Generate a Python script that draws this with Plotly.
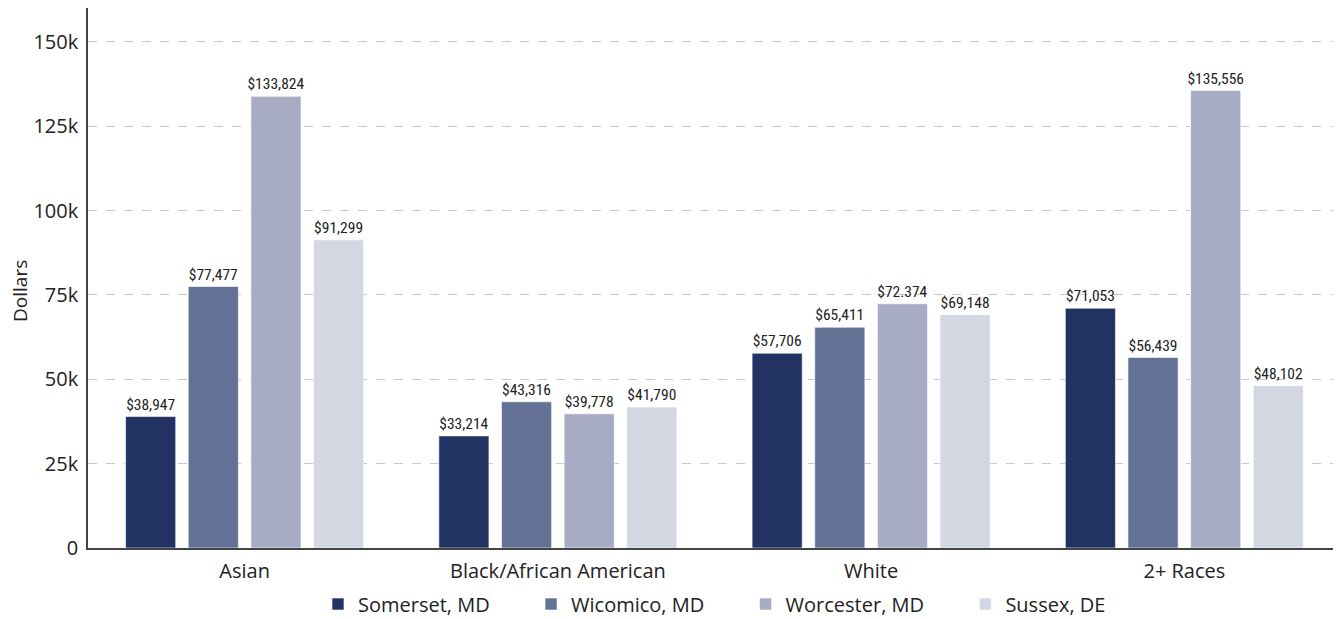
import plotly.graph_objects as go

CATEGORIES = ["Asian", "Black/African American", "White", "2+ Races"]

SOMERSET = [38947, 33214, 57706, 71053]
WICOMICO = [77477, 43316, 65411, 56439]
WORCESTER = [133824, 39778, 72374, 135556]
SUSSEX = [91299, 41790, 69148, 48102]

SOMERSET_LABELS = ["$38,947", "$33,214", "$57,706", "$71,053"]
WICOMICO_LABELS = ["$77,477", "$43,316", "$65,411", "$56,439"]
WORCESTER_LABELS = ["$133,824", "$39,778", "$72.374", "$135,556"]
SUSSEX_LABELS = ["$91,299", "$41,790", "$69,148", "$48,102"]

Y_TICKS = [0, 25000, 50000, 75000, 100000, 125000, 150000]
Y_TICK_TEXT = ["0", "25k", "50k", "75k", "100k", "125k", "150k"]

SERIES = [
    ("Somerset, MD", SOMERSET, SOMERSET_LABELS, "#223263"),
    ("Wicomico, MD", WICOMICO, WICOMICO_LABELS, "#627194"),
    ("Worcester, MD", WORCESTER, WORCESTER_LABELS, "#a7acc4"),
    ("Sussex, DE", SUSSEX, SUSSEX_LABELS, "#d3d7e2"),
]

TEXT = "#222222"
LABEL_FONT = "Roboto Condensed, DejaVu Sans Condensed, sans-serif"
AXIS_FONT = "Open Sans, Lato, sans-serif"
PAD = "\u00a0" * 7  # widen the gap between legend entries

# the page body has an 8px margin, so the figure is sized 8px smaller
fig = go.Figure()
for i, (name, values, labels, color) in enumerate(SERIES):
    fig.add_trace(
        go.Bar(
            name=name + (PAD if i < len(SERIES) - 1 else ""),
            x=CATEGORIES,
            y=values,
            text=labels,
            textposition="outside",
            constraintext="none",
            cliponaxis=False,
            textfont={"family": LABEL_FONT, "size": 15.5, "color": TEXT},
            marker={"color": color, "line": {"color": "rgba(255,255,255,0.6)", "width": 1}},
        )
    )

fig.update_layout(
    width=1333,
    height=611,
    barmode="group",
    bargap=0.2,
    bargroupgap=0.2,
    paper_bgcolor="white",
    plot_bgcolor="white",
    font={"family": AXIS_FONT, "color": TEXT, "size": 20},
    margin={"l": 80, "r": 0, "t": 0, "b": 71},
    showlegend=True,
    legend={
        "orientation": "h",
        "x": 0.5,
        "xanchor": "center",
        "y": 0.0245,
        "yanchor": "middle",
        "yref": "container",
        "font": {"size": 20, "color": TEXT},
        "itemwidth": 30,
        "traceorder": "normal",
    },
)

# y-axis title as an annotation so it can sit further left
fig.add_annotation(
    text="Dollars",
    xref="paper",
    yref="paper",
    x=0,
    y=0.476,
    xanchor="center",
    yanchor="middle",
    xshift=-68,
    textangle=-90,
    showarrow=False,
    font={"size": 19, "color": TEXT},
)

fig.update_xaxes(
    automargin=False,
    showline=True,
    linecolor="#444444",
    linewidth=1.5,
    showgrid=False,
    ticks="",
    ticklabelstandoff=4,
    tickfont={"size": 20, "color": TEXT},
)
fig.update_yaxes(
    automargin=False,
    range=[0, 160000],
    tickvals=Y_TICKS,
    ticktext=Y_TICK_TEXT,
    showline=True,
    linecolor="#444444",
    linewidth=1.5,
    showgrid=True,
    gridcolor="#c8c8c8",
    griddash="dash",
    zeroline=False,
    ticks="",
    ticklabelstandoff=4,
    tickfont={"size": 20, "color": TEXT},
)

fig.write_html("out.html")
